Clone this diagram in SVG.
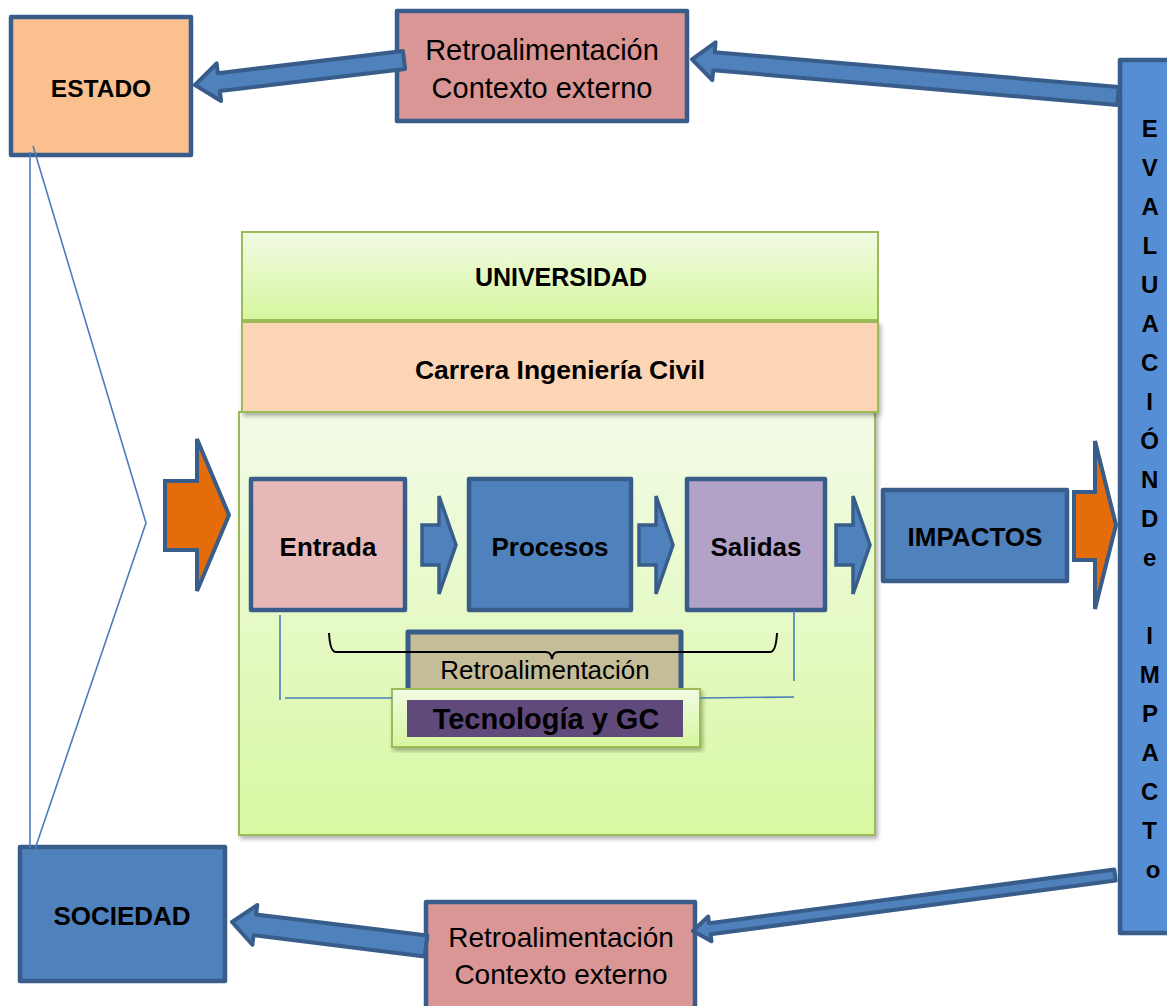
<svg xmlns="http://www.w3.org/2000/svg" width="1167" height="1006" viewBox="0 0 1167 1006">
<defs>
<linearGradient id="gGreen" x1="0" y1="0" x2="0" y2="1">
<stop offset="0" stop-color="#f3fbe8"/>
<stop offset="1" stop-color="#d8f8a2"/>
</linearGradient>
<linearGradient id="gGreen2" x1="0" y1="0" x2="0" y2="1">
<stop offset="0" stop-color="#f2fbe4"/>
<stop offset="1" stop-color="#d6f69e"/>
</linearGradient>
<filter id="shadow" x="-5%" y="-5%" width="112%" height="115%">
<feDropShadow dx="2" dy="3" stdDeviation="2" flood-color="#000" flood-opacity="0.3"/>
</filter>
</defs>
<style>
.box{stroke:#385d8a;stroke-width:4.5;stroke-linejoin:round}
.gbox{stroke:#9bbb59;stroke-width:2}
.arr{fill:#4f81bd;stroke:#385d8a;stroke-width:4;stroke-linejoin:round}
.sarr{fill:#4f81bd;stroke:#385d8a;stroke-width:3.5;stroke-linejoin:miter}
.oarr{fill:#e46c0a;stroke:#385d8a;stroke-width:4;stroke-linejoin:miter}
.ln{fill:none;stroke:#4a7ebb;stroke-width:1.6}
.b{font-family:"Liberation Sans",Arial,sans-serif;font-weight:bold;fill:#000;text-anchor:middle}
.r{font-family:"Liberation Sans",Arial,sans-serif;fill:#000;text-anchor:middle}
</style>

<g id="estado">
<rect class="box" x="11" y="17" width="180" height="138" fill="#fac090"/>
<text class="b" x="101" y="97" font-size="24.5">ESTADO</text>
</g>

<g id="retro-top">
<rect class="box" x="397" y="11" width="290" height="110" fill="#d99694"/>
<text class="r" x="542" y="60" font-size="29">Retroalimentación</text>
<text class="r" x="542" y="98" font-size="29">Contexto externo</text>
</g>

<g id="evaluacion">
<rect class="box" x="1120" y="60" width="60" height="873" fill="#558ed5"/>
<text class="b" font-size="24">
<tspan x="1153" y="137">E</tspan>
<tspan x="1153" y="176">V</tspan>
<tspan x="1153" y="215">A</tspan>
<tspan x="1153" y="254">L</tspan>
<tspan x="1153" y="293">U</tspan>
<tspan x="1153" y="332">A</tspan>
<tspan x="1153" y="371">C</tspan>
<tspan x="1153" y="410">I</tspan>
<tspan x="1153" y="449">Ó</tspan>
<tspan x="1153" y="488">N</tspan>
<tspan x="1153" y="527">D</tspan>
<tspan x="1153" y="566">e</tspan>
<tspan x="1153" y="644">I</tspan>
<tspan x="1153" y="683">M</tspan>
<tspan x="1153" y="722">P</tspan>
<tspan x="1153" y="761">A</tspan>
<tspan x="1153" y="800">C</tspan>
<tspan x="1153" y="839">T</tspan>
<tspan x="1153" y="878">o</tspan>
</text>
</g>

<g id="contenedor">
<rect class="gbox" x="239" y="412" width="636" height="423" fill="url(#gGreen)" filter="url(#shadow)"/>
</g>

<g id="universidad">
<rect class="gbox" x="242" y="232" width="636" height="88" fill="url(#gGreen2)"/>
<text class="b" x="561" y="286" font-size="25">UNIVERSIDAD</text>
</g>

<g id="carrera">
<rect class="gbox" x="242" y="322" width="636" height="90" fill="#fcd5b5" filter="url(#shadow)"/>
<text class="b" x="560" y="379" font-size="26.5">Carrera Ingeniería Civil</text>
</g>

<g id="entrada">
<rect class="box" x="251" y="479" width="154" height="131" fill="#e6b9b8"/>
<text class="b" x="328" y="556" font-size="26">Entrada</text>
</g>

<g id="procesos">
<rect class="box" x="469" y="479" width="162" height="131" fill="#4f81bd"/>
<text class="b" x="550" y="556" font-size="26">Procesos</text>
</g>

<g id="salidas">
<rect class="box" x="687" y="479" width="138" height="131" fill="#b3a2c7"/>
<text class="b" x="756" y="556" font-size="26">Salidas</text>
</g>

<g id="impactos">
<rect class="box" x="883" y="490" width="184" height="91" fill="#4f81bd"/>
<text class="b" x="975" y="546" font-size="26">IMPACTOS</text>
</g>

<g id="sociedad">
<rect class="box" x="20" y="847" width="205" height="134" fill="#4f81bd"/>
<text class="b" x="122" y="925" font-size="26">SOCIEDAD</text>
</g>

<g id="retro-bottom">
<rect class="box" x="426" y="902" width="269" height="120" fill="#d99694"/>
<text class="r" x="561" y="947" font-size="28">Retroalimentación</text>
<text class="r" x="561" y="984" font-size="28">Contexto externo</text>
</g>

<g id="retro-interna">
<rect x="408" y="632" width="273" height="70" fill="#c4bd97" stroke="#385d8a" stroke-width="5" stroke-linejoin="round"/>
<text class="r" x="545" y="679" font-size="26">Retroalimentación</text>
</g>

<g id="tecnologia">
<rect class="gbox" x="392" y="689" width="308" height="58" fill="url(#gGreen2)" filter="url(#shadow)"/>
<rect x="407" y="700" width="276" height="37" fill="#604a7b"/>
<text class="b" x="546" y="729" font-size="29">Tecnología y GC</text>
</g>

<g id="connectors">
<polygon class="arr" points="402.9,51.1 217.8,73.2 216.6,63.3 195,85 221.1,101 219.9,91.1 405.1,68.9"/>
<polygon class="arr" points="1118.8,87 714.7,52.2 715.6,42.3 692,59.3 712.3,80.1 713.2,70.2 1117.2,105"/>
<polygon class="arr" points="1114.3,869.6 709.1,923.3 708.2,916.4 693,931 711.5,941.2 710.6,934.2 1115.7,880.5"/>
<polygon class="arr" points="427.3,935.6 256.1,914.4 257.3,905 232,922 252.4,944.7 253.5,935.2 424.7,956.4"/>
<polygon class="oarr" points="165,481 197,481 197,439 229,515 197,591 197,550 165,550"/>
<polygon class="oarr" points="1074,492 1095,492 1095,441 1116,525 1095,609 1095,560 1074,560"/>
<polygon class="sarr" points="422,525 439,525 439,496 456,545 439,594 439,565 422,565"/>
<polygon class="sarr" points="639,525 656,525 656,496 673,545 656,594 656,565 639,565"/>
<polygon class="sarr" points="836,525 853,525 853,496 870,545 853,594 853,565 836,565"/>
<line class="ln" x1="30" y1="152" x2="30" y2="848"/>
<polyline class="ln" points="33,146 146,523 35,849"/>
<line class="ln" x1="280" y1="615" x2="280" y2="700"/>
<line class="ln" x1="285" y1="698" x2="392" y2="698"/>
<line class="ln" x1="794" y1="611" x2="794" y2="681"/>
<line class="ln" x1="700" y1="698" x2="794" y2="697"/>
<path d="M329,633 Q330,652 336,652 L546,652 Q551,652 552,659 Q553,652 558,652 L770,652 Q776,652 777,633" fill="none" stroke="#000" stroke-width="2"/>
</g>
</svg>
